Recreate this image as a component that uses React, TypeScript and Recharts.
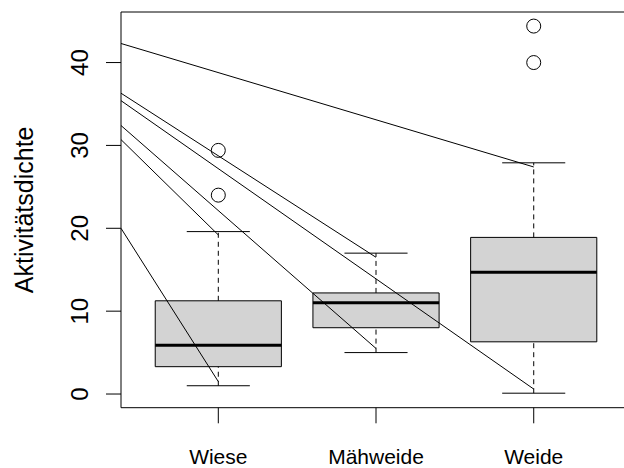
import React from 'react';
import { ComposedChart, XAxis, YAxis, Line, Scatter, ReferenceArea, ReferenceLine } from 'recharts';

const categories = ['Wiese', 'Mähweide', 'Weide'];
const whiskerLow = [1.0, 5.0, 0.1];
const quartile1 = [3.3, 8.0, 6.3];
const medians = [5.9, 11.0, 14.7];
const quartile3 = [11.25, 12.2, 18.9];
const whiskerHigh = [19.6, 17.0, 27.9];

const outlierGroup = [1, 1, 3, 3];
const outlierValues = [29.4, 24.0, 44.4, 40.0];

// straight lines, start value at left edge of plot, end at a group
const lineStarts = [42.3, 36.3, 35.4, 32.4, 30.7, 20.0];
const lineEndGroup = [3, 2, 3, 2, 1, 1];
const lineEnds = [27.4, 16.5, 0.6, 5.5, 19.2, 1.5];

const yTicks = [0, 10, 20, 30, 40];
const xTicks = [1, 2, 3];

const xDomain = [0.383, 3.62];
const yDomain = [-1.65, 46.1];

const FONT = '"Liberation Sans", Arial, Helvetica, sans-serif';

const renderXTick = (props: any) => {
  const { x, y, payload } = props;
  return (
    <g key={`xt-${payload.value}`}>
      <line x1={x} x2={x} y1={y} y2={y + 15.6} stroke="#000" />
      <text x={x} y={y + 56.6} textAnchor="middle" fontSize={21} fontFamily={FONT} fill="#000">
        {categories[payload.value - 1]}
      </text>
    </g>
  );
};

const renderYTick = (props: any) => {
  const { x, y, payload } = props;
  const tx = x - 33;
  return (
    <g key={`yt-${payload.value}`}>
      <line x1={x - 15} x2={x} y1={y} y2={y} stroke="#000" />
      <text x={tx} y={y} transform={`rotate(-90, ${tx}, ${y})`} textAnchor="middle" fontSize={24} fontFamily={FONT} fill="#000">
        {payload.value}
      </text>
    </g>
  );
};

const renderYLabel = (props: any) => {
  const vb = props.viewBox || { x: 0, y: 12, height: 396 };
  const tx = vb.x + 33;
  const ty = vb.y + vb.height / 2;
  return (
    <text x={tx} y={ty} transform={`rotate(-90, ${tx}, ${ty})`} textAnchor="middle" fontSize={25} fontFamily={FONT} fill="#000">
      Aktivitätsdichte
    </text>
  );
};

const Outlier = (props: any) => (
  <circle cx={props.cx} cy={props.cy} r={7} fill="none" stroke="#000" strokeWidth={1} />
);

export default function App() {
  const outliers = outlierValues.map((v, i) => ({ x: outlierGroup[i], y: v }));

  return (
    <div style={{ position: 'absolute', left: 0, top: 0, width: 624, height: 468, overflow: 'hidden', background: '#fff' }}>
      <ComposedChart width={640} height={468} margin={{ top: 12, right: 8.5, bottom: 0, left: 0 }}>
        <XAxis
          dataKey="x"
          type="number"
          domain={xDomain}
          ticks={xTicks}
          allowDataOverflow
          axisLine={false}
          tickLine={false}
          tickSize={0}
          tickMargin={0}
          height={60.3}
          tick={renderXTick}
          interval={0}
        />
        <YAxis
          type="number"
          domain={yDomain}
          ticks={yTicks}
          allowDataOverflow
          axisLine={false}
          tickLine={false}
          tickSize={0}
          tickMargin={0}
          width={121}
          tick={renderYTick}
          interval={0}
          label={renderYLabel}
        />

        {categories.map((c, i) => {
          const g = i + 1;
          return (
            <React.Fragment key={c}>
              <ReferenceLine segment={[{ x: g, y: quartile3[i] }, { x: g, y: whiskerHigh[i] }]} stroke="#000" strokeDasharray="5 4" />
              <ReferenceLine segment={[{ x: g, y: whiskerLow[i] }, { x: g, y: quartile1[i] }]} stroke="#000" strokeDasharray="5 4" />
              <ReferenceLine segment={[{ x: g - 0.2, y: whiskerHigh[i] }, { x: g + 0.2, y: whiskerHigh[i] }]} stroke="#000" />
              <ReferenceLine segment={[{ x: g - 0.2, y: whiskerLow[i] }, { x: g + 0.2, y: whiskerLow[i] }]} stroke="#000" />
              <ReferenceArea x1={g - 0.4} x2={g + 0.4} y1={quartile1[i]} y2={quartile3[i]} fill="#d3d3d3" fillOpacity={1} stroke="#000" strokeWidth={1} />
              <ReferenceLine segment={[{ x: g - 0.4, y: medians[i] }, { x: g + 0.4, y: medians[i] }]} stroke="#000" strokeWidth={3} />
            </React.Fragment>
          );
        })}

        <ReferenceArea x1={xDomain[0]} x2={xDomain[1]} y1={yDomain[0]} y2={yDomain[1]} fill="none" stroke="#000" strokeWidth={1} />

        <Scatter data={outliers} dataKey="y" shape={<Outlier />} isAnimationActive={false} />

        {lineStarts.map((s, i) => (
          <Line
            key={i}
            data={[{ x: xDomain[0], y: s }, { x: lineEndGroup[i], y: lineEnds[i] }]}
            dataKey="y"
            stroke="#000"
            strokeWidth={1}
            dot={false}
            activeDot={false}
            isAnimationActive={false}
          />
        ))}
      </ComposedChart>
    </div>
  );
}
